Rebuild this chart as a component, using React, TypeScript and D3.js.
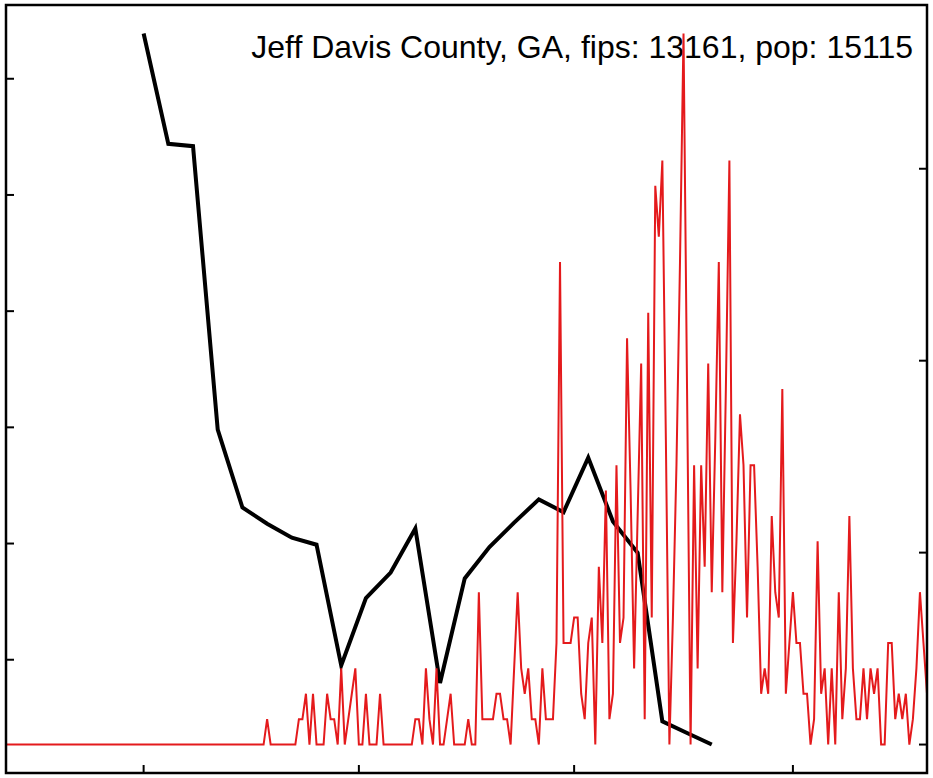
import React from "react";
import * as d3 from "d3";

const title = "Jeff Davis County, GA, fips: 13161, pop: 15115";
const population = 15115;
const startDate = "2020-01-22";

// daily new cases (counts), starting at startDate
const redCounts = [
  0, 0, 0, 0, 0, 0, 0, 0, 0, 0, 0, 0, 0, 0, 0, 0, 0, 0, 0, 0,
  0, 0, 0, 0, 0, 0, 0, 0, 0, 0, 0, 0, 0, 0, 0, 0, 0, 0, 0, 0,
  0, 0, 0, 0, 0, 0, 0, 0, 0, 0, 0, 0, 0, 0, 0, 0, 0, 0, 0, 0,
  0, 0, 0, 0, 0, 0, 0, 0, 0, 0, 0, 0, 0, 0,
  1, 0, 0, 0, 0, 0, 0, 0, 0, 1, 1, 2, 0, 2, 0, 0, 0, 2, 1, 1,
  0, 3, 0, 1, 2, 3, 0, 0, 2, 0, 0, 0, 2, 0, 0, 0, 0, 0, 0, 0,
  0, 0, 1, 1, 0, 3, 1, 0, 3, 0, 0, 1, 2, 0, 0, 0, 0, 1, 0, 0,
  6, 1, 1, 1, 1, 2, 2, 1, 1, 0, 3, 6, 3, 2, 3, 1, 1, 0, 3, 1,
  1, 1, 4, 19, 4, 4, 4, 5, 5, 2, 1, 4, 5, 0, 7, 4, 10, 1, 2, 11,
  4, 5, 16, 10, 3, 9, 15, 1, 17, 5, 22, 20, 23, 12, 0, 5, 11, 19, 28, 14,
  0, 11, 3, 11, 7, 15, 6, 12, 19, 6, 14, 23, 4, 8, 13, 11, 5, 11, 11, 7,
  2, 3, 2, 9, 6, 5, 14, 2, 4, 6, 4, 4, 2, 2, 0, 1, 8, 2, 3, 0,
  3, 0, 6, 1, 3, 9, 3, 1, 1, 3, 1, 3, 2, 3, 0, 0, 4, 4, 1, 2,
  1, 2, 0, 1, 3, 6, 4, 2,
];

// weekly series (left axis)
const blackDates = [
  "2020-03-01", "2020-03-08", "2020-03-15", "2020-03-22", "2020-03-29",
  "2020-04-05", "2020-04-12", "2020-04-19", "2020-04-26", "2020-05-03",
  "2020-05-10", "2020-05-17", "2020-05-24", "2020-05-31", "2020-06-07",
  "2020-06-14", "2020-06-21", "2020-06-28", "2020-07-05", "2020-07-12",
  "2020-07-19", "2020-07-26", "2020-08-02", "2020-08-09",
];
const blackValues = [
  6.39, 5.44, 5.42, 2.98, 2.31, 2.17, 2.05, 1.99, 0.95, 1.53,
  1.75, 2.13, 0.8, 1.7, 1.97, 2.18, 2.38, 2.27, 2.74, 2.19,
  1.92, 0.47, 0.37, 0.27,
];

const leftTicks = [1, 2, 3, 4, 5, 6];
const rightTicks = [0, 50, 100, 150];
const bottomTicks = ["2020-03-01", "2020-05-01", "2020-07-01", "2020-09-01"];

const W = 933;
const H = 778;
const frame = { left: 6, right: 927, top: 5, bottom: 773 };

function padded(ext: [number, number]): [number, number] {
  const r = ext[1] - ext[0];
  return [ext[0] - 0.04 * r, ext[1] + 0.04 * r];
}

export default function App() {
  const parse = d3.utcParse("%Y-%m-%d");
  const start = parse(startDate) as Date;
  const redData = redCounts.map((c, i) => ({
    date: d3.utcDay.offset(start, i),
    rate: (c * 100000) / population,
  }));
  const blackData = blackDates.map((d, i) => ({
    date: parse(d) as Date,
    value: blackValues[i],
  }));

  const x = d3
    .scaleUtc()
    .domain([redData[0].date, redData[redData.length - 1].date])
    .range([frame.left, frame.right]);

  const yRight = d3
    .scaleLinear()
    .domain(padded(d3.extent(redData, (d) => d.rate) as [number, number]))
    .range([frame.bottom, frame.top]);

  const yLeft = d3
    .scaleLinear()
    .domain(padded(d3.extent(blackData, (d) => d.value) as [number, number]))
    .range([frame.bottom, frame.top]);

  const redLine = d3
    .line<{ date: Date; rate: number }>()
    .x((d) => x(d.date))
    .y((d) => yRight(d.rate));
  const blackLine = d3
    .line<{ date: Date; value: number }>()
    .x((d) => x(d.date))
    .y((d) => yLeft(d.value));

  const tickLen = 8;

  return (
    <svg
      width={W}
      height={H}
      style={{ position: "absolute", left: 0, top: 0, background: "#fff" }}
    >
      <rect x={0} y={0} width={W} height={H} fill="#fff" />
      <path
        d={blackLine(blackData) || ""}
        fill="none"
        stroke="#000"
        strokeWidth={4}
        strokeLinejoin="miter"
      />
      <text
        x={913}
        y={58}
        textAnchor="end"
        fontFamily="'Liberation Sans', Arial, sans-serif"
        fontSize={32}
        fill="#000"
      >
        {title}
      </text>
      <path
        d={redLine(redData) || ""}
        fill="none"
        stroke="#e41a1c"
        strokeWidth={2}
        strokeLinejoin="miter"
      />
      <rect
        x={frame.left}
        y={frame.top}
        width={frame.right - frame.left}
        height={frame.bottom - frame.top}
        fill="none"
        stroke="#000"
        strokeWidth={2.5}
      />
      {leftTicks.map((t) => (
        <line
          key={"l" + t}
          x1={frame.left}
          x2={frame.left + tickLen}
          y1={yLeft(t)}
          y2={yLeft(t)}
          stroke="#000"
          strokeWidth={2}
        />
      ))}
      {rightTicks.map((t) => (
        <line
          key={"r" + t}
          x1={frame.right - tickLen}
          x2={frame.right}
          y1={yRight(t)}
          y2={yRight(t)}
          stroke="#000"
          strokeWidth={2}
        />
      ))}
      {bottomTicks.map((t) => {
        const xx = x(parse(t) as Date);
        return (
          <line
            key={"b" + t}
            x1={xx}
            x2={xx}
            y1={frame.bottom - tickLen}
            y2={frame.bottom}
            stroke="#000"
            strokeWidth={2}
          />
        );
      })}
    </svg>
  );
}
